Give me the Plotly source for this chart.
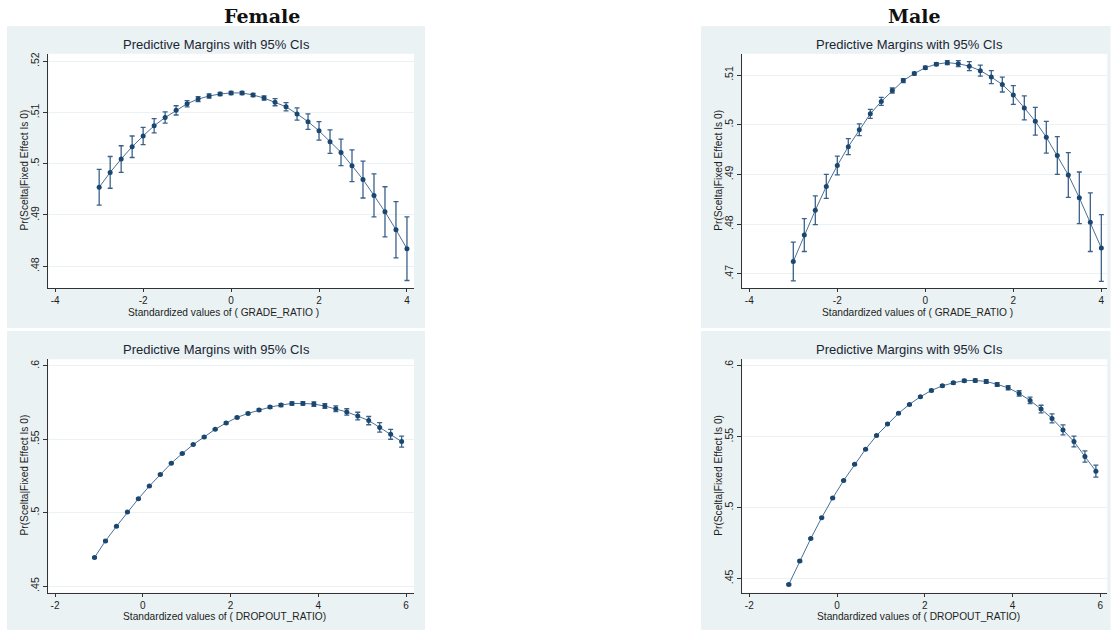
import plotly.graph_objects as go

W, H = 1111, 631

# ---------------- data ----------------
grade_x = [-3, -2.75, -2.5, -2.25, -2, -1.75, -1.5, -1.25, -1, -0.75, -0.5, -0.25, 0,
           0.25, 0.5, 0.75, 1, 1.25, 1.5, 1.75, 2, 2.25, 2.5, 2.75, 3, 3.25, 3.5, 3.75, 4]
drop_x = [-1.1, -0.85, -0.6, -0.35, -0.1, 0.15, 0.4, 0.65, 0.9, 1.15, 1.4, 1.65, 1.9,
          2.15, 2.4, 2.65, 2.9, 3.15, 3.4, 3.65, 3.9, 4.15, 4.4, 4.65, 4.9, 5.15, 5.4, 5.65, 5.9]

f_grade_y = [.4954, .4983, .5009, .5033, .5054, .5074, .5090, .5104, .5117, .5126, .5132, .5136, .5138,
             .5138, .5134, .5128, .5120, .5111, .5097, .5082, .5064, .5043, .5022, .4996, .4969, .4938,
             .4906, .4871, .4834]
f_grade_e = [.0035, .0031, .0026, .0021, .0017, .0014, .0011, .0009, .0006, .0005, .0004, .0003, .0003,
             .0003, .0003, .0004, .0007, .0008, .0012, .0015, .0018, .0023, .0026, .0031, .0036, .0042,
             .0049, .0055, .0062]

m_grade_y = [.4725, .4778, .4828, .4876, .4918, .4956, .4990, .5022, .5047, .5069, .5089, .5103, .5115,
             .5122, .5125, .5123, .5118, .5109, .5096, .5081, .5060, .5034, .5007, .4975, .4938, .4899,
             .4853, .4804, .4752]
m_grade_e = [.0039, .0033, .0029, .0024, .0019, .0016, .0012, .0009, .0008, .0005, .0004, .0003, .0003,
             .0003, .0004, .0006, .0009, .0011, .0013, .0015, .0019, .0024, .0028, .0032, .0038, .0045,
             .0052, .0059, .0067]

f_drop_y = [.4695, .4808, .4907, .5005, .5095, .5181, .5260, .5337, .5403, .5464, .5516, .5568, .5611,
            .5649, .5676, .5699, .5719, .5733, .5744, .5744, .5740, .5726, .5708, .5686, .5658, .5627,
            .5581, .5534, .5484]
f_drop_e = [.0006, .0005, .0005, .0004, .0004, .0004, .0004, .0004, .0004, .0004, .0005, .0005, .0006,
            .0006, .0007, .0008, .0009, .0010, .0011, .0012, .0015, .0016, .0019, .0022, .0026, .0028,
            .0032, .0034, .0038]

m_drop_y = [.4458, .4624, .4781, .4929, .5067, .5191, .5306, .5412, .5508, .5590, .5665, .5728, .5782,
            .5826, .5859, .5880, .5895, .5897, .5890, .5869, .5845, .5805, .5756, .5695, .5629, .5548,
            .5466, .5360, .5257]
m_drop_e = [.0006, .0006, .0005, .0005, .0004, .0004, .0004, .0004, .0004, .0005, .0005, .0006, .0006,
            .0007, .0008, .0009, .0010, .0011, .0013, .0013, .0015, .0019, .0023, .0027, .0032, .0035,
            .0038, .0040, .0042]

grade_xticks = [-4, -2, 0, 2, 4]
grade_xlabels = ["-4", "-2", "0", "2", "4"]
drop_xticks = [-2, 0, 2, 4, 6]
drop_xlabels = ["-2", "0", "2", "4", "6"]
f_grade_yticks = [.48, .49, .50, .51, .52]
f_grade_ylabels = [".48", ".49", ".5", ".51", ".52"]
m_grade_yticks = [.47, .48, .49, .50, .51]
m_grade_ylabels = [".47", ".48", ".49", ".5", ".51"]
drop_yticks = [.45, .50, .55, .60]
drop_ylabels = [".45", ".5", ".55", ".6"]

col_titles = ["Female", "Male"]
sub_title = "Predictive Margins with 95% CIs"
y_title = "Pr(Scelta|Fixed Effect Is 0)"
x_title_grade = "Standardized values of ( GRADE_RATIO )"
x_title_drop = "Standardized values of ( DROPOUT_RATIO)"

# ---------------- layout helpers ----------------
def fx(x):
    return x / W

def fy(y):
    return 1 - y / H

FONT = "Liberation Sans, Arial, sans-serif"
NAVY = "#1a476f"
PANEL = "#eaf2f3"
TXT = "#1e1e1e"

panels = [
    dict(pbox=(7, 24, 425, 327), box=(48.3, 52, 414, 287),
         x=grade_x, y=f_grade_y, e=f_grade_e,
         xt=grade_xticks, xl=grade_xlabels, yt=f_grade_yticks, yl=f_grade_ylabels,
         xr=[-4.157, 4.16], yr=[.47572, .52143],
         sub=(216, 43), xtitle=(x_title_grade, 223.5, 311), ytitle=(24, 169)),
    dict(pbox=(701, 24, 1110.5, 327), box=(742.3, 52, 1107.3, 287),
         x=grade_x, y=m_grade_y, e=m_grade_e,
         xt=grade_xticks, xl=grade_xlabels, yt=m_grade_yticks, yl=m_grade_ylabels,
         xr=[-4.159, 4.136], yr=[.46713, .51428],
         sub=(909, 43), xtitle=(x_title_grade, 917.5, 311), ytitle=(718.3, 169)),
    dict(pbox=(7, 330, 425, 630), box=(48.3, 358.3, 414, 592.7),
         x=drop_x, y=f_drop_y, e=f_drop_e,
         xt=drop_xticks, xl=drop_xlabels, yt=drop_yticks, yl=drop_ylabels,
         xr=[-2.153, 6.182], yr=[.44545, .60455],
         sub=(216, 349), xtitle=(x_title_drop, 224, 616.5), ytitle=(24, 475)),
    dict(pbox=(701, 330, 1110.5, 630), box=(742.3, 358.3, 1107.3, 592.7),
         x=drop_x, y=m_drop_y, e=m_drop_e,
         xt=drop_xticks, xl=drop_xlabels, yt=drop_yticks, yl=drop_ylabels,
         xr=[-2.16, 6.16], yr=[.43987, .6047],
         sub=(909.5, 349), xtitle=(x_title_drop, 918, 616.5), ytitle=(718.3, 475)),
]

fig = go.Figure()
shapes = []
annotations = []
layout_axes = {}

for i, p in enumerate(panels, start=1):
    sx = "" if i == 1 else str(i)
    x0, y0, x1, y1 = p["box"]
    px0, py0, px1, py1 = p["pbox"]
    shapes.append(dict(type="rect", xref="paper", yref="paper", layer="below",
                       x0=fx(px0), x1=fx(px1), y0=fy(py1), y1=fy(py0),
                       fillcolor=PANEL, line=dict(width=0)))
    fig.add_trace(go.Scatter(
        x=p["x"], y=p["y"], mode="lines+markers",
        xaxis="x" + sx, yaxis="y" + sx, showlegend=False,
        line=dict(color="#4a6f96", width=1),
        marker=dict(color=NAVY, size=5, symbol="circle"),
        error_y=dict(type="data", array=p["e"], visible=True,
                     color="#3b6089", thickness=1.3, width=2.5),
    ))
    layout_axes["xaxis" + sx] = dict(
        domain=[fx(x0), fx(x1)], anchor="y" + sx, range=p["xr"],
        tickvals=p["xt"], ticktext=p["xl"], ticks="outside", ticklen=3,
        tickcolor="#333", showline=True, linecolor="#333", linewidth=1,
        showgrid=False, zeroline=False,
        tickfont=dict(family=FONT, size=10, color=TXT))
    layout_axes["yaxis" + sx] = dict(
        domain=[fy(y1), fy(y0)], anchor="x" + sx, range=p["yr"],
        tickvals=p["yt"], ticktext=p["yl"], ticks="outside", ticklen=4,
        tickcolor="#333", showline=True, linecolor="#333", linewidth=1,
        showgrid=True, gridcolor=PANEL, gridwidth=1, zeroline=False,
        tickangle=-90,
        tickfont=dict(family=FONT, size=10.5, color=TXT))
    shapes.append(dict(type="rect", xref="paper", yref="paper", layer="below",
                       x0=fx(x0), x1=fx(x1), y0=fy(y1), y1=fy(y0),
                       fillcolor="white", line=dict(width=0)))
    sx_, sy_ = p["sub"]
    annotations.append(dict(text=sub_title, xref="paper", yref="paper",
                            x=fx(sx_), y=fy(sy_), xanchor="center", yanchor="middle",
                            showarrow=False, font=dict(family=FONT, size=13, color="#1a2533")))
    t, tx, ty = p["xtitle"]
    annotations.append(dict(text=t, xref="paper", yref="paper",
                            x=fx(tx), y=fy(ty), xanchor="center", yanchor="middle",
                            showarrow=False, font=dict(family=FONT, size=10.2, color=TXT)))
    yx, yy = p["ytitle"]
    annotations.append(dict(text=y_title, xref="paper", yref="paper", textangle=-90,
                            x=fx(yx), y=fy(yy), xanchor="center", yanchor="middle",
                            showarrow=False, font=dict(family=FONT, size=10.2, color=TXT)))

for t, cx in zip(col_titles, [262, 914]):
    annotations.append(dict(text="<b>" + t + "</b>", xref="paper", yref="paper",
                            x=fx(cx), y=fy(14), xanchor="center", yanchor="middle",
                            showarrow=False,
                            font=dict(family="DejaVu Serif, serif", size=19, color="#111")))

fig.update_layout(
    width=W, height=H, autosize=False,
    margin=dict(l=0, r=0, t=0, b=0),
    paper_bgcolor="white", plot_bgcolor="white",
    shapes=shapes, annotations=annotations,
    **layout_axes,
)

fig.write_html("out.html")
